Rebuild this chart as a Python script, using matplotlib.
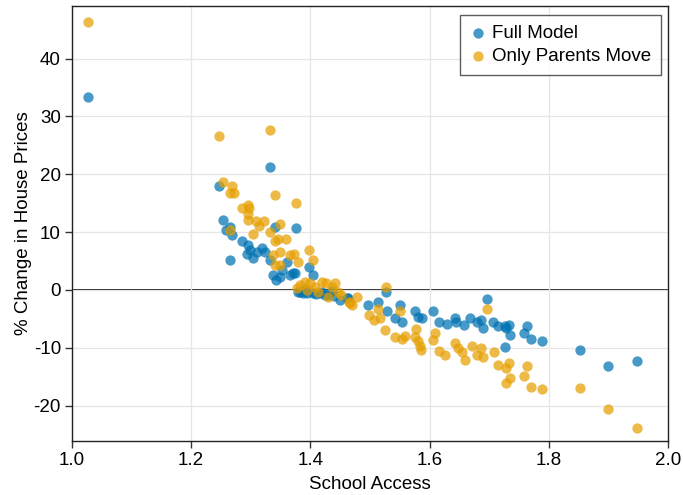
import matplotlib
matplotlib.use("Agg")
import matplotlib.pyplot as plt

# School access per tract and % change in house prices under each scenario
full_x = [1.027, 1.333, 1.247, 1.253, 1.265, 1.269, 1.376, 1.341, 1.286, 1.296,
          1.299, 1.324, 1.310, 1.293, 1.303, 1.265, 1.332, 1.360, 1.397, 1.338,
          1.349, 1.366, 1.374, 1.343, 1.405, 1.370, 1.379, 1.388, 1.404, 1.416,
          1.450, 1.463, 1.383, 1.395, 1.410, 1.420, 1.430, 1.440, 1.461, 1.527,
          1.696, 1.497, 1.514, 1.550, 1.528, 1.542, 1.553, 1.576, 1.581, 1.587,
          1.606, 1.615, 1.629, 1.643, 1.645, 1.657, 1.668, 1.679, 1.687, 1.690,
          1.707, 1.727, 1.727, 1.714, 1.729, 1.734, 1.735, 1.758, 1.764, 1.771,
          1.789, 1.853, 1.900, 1.948, 1.259, 1.318, 1.352, 1.391, 1.425, 1.436]
full_y = [33.4, 21.3, 18.0, 12.1, 10.9, 9.5, 10.8, 10.9, 8.5, 7.8,
          6.9, 6.6, 6.6, 6.3, 5.5, 5.2, 5.2, 4.9, 4.0, 2.6,
          2.3, 2.6, 2.9, 1.7, 2.6, 2.9, -0.3, -0.6, -0.6, -0.6,
          -1.7, -1.4, -0.4, -0.5, -0.7, -0.3, -0.8, -1.0, -1.4, -0.3,
          -1.6, -2.6, -2.0, -2.6, -3.7, -4.9, -5.5, -3.7, -4.6, -4.9,
          -3.7, -5.6, -5.8, -4.9, -5.5, -6.1, -4.9, -5.5, -5.1, -6.6,
          -5.5, -6.3, -9.9, -6.2, -6.5, -6.1, -7.8, -7.5, -6.3, -8.4,
          -8.8, -10.4, -13.1, -12.3, 10.4, 7.3, 3.5, 0.2, -0.9, -0.2]

parents_x = [1.027, 1.247, 1.333, 1.253, 1.269, 1.265, 1.271, 1.341, 1.376, 1.296,
             1.286, 1.297, 1.296, 1.296, 1.309, 1.322, 1.313, 1.265, 1.349, 1.332,
             1.346, 1.359, 1.341, 1.303, 1.349, 1.373, 1.366, 1.397, 1.338, 1.404,
             1.380, 1.341, 1.349, 1.383, 1.391, 1.399, 1.408, 1.419, 1.427, 1.436,
             1.441, 1.447, 1.452, 1.430, 1.466, 1.478, 1.377, 1.394, 1.413, 1.464,
             1.469, 1.527, 1.696, 1.514, 1.550, 1.499, 1.506, 1.517, 1.525, 1.542,
             1.553, 1.559, 1.577, 1.581, 1.584, 1.585, 1.575, 1.606, 1.609, 1.615,
             1.626, 1.643, 1.648, 1.654, 1.659, 1.671, 1.679, 1.687, 1.690, 1.708,
             1.714, 1.729, 1.734, 1.735, 1.728, 1.758, 1.764, 1.771, 1.789, 1.853,
             1.900, 1.948]
parents_y = [46.3, 26.6, 27.7, 18.7, 17.9, 16.8, 16.7, 16.4, 15.1, 14.7,
             14.2, 14.1, 13.1, 12.1, 12.0, 11.9, 11.1, 10.4, 11.4, 10.1,
             8.9, 8.9, 8.5, 9.7, 6.6, 6.3, 6.0, 6.9, 6.0, 5.1,
             4.9, 4.3, 4.3, 0.9, 1.4, 1.2, 0.6, 1.4, 1.2, 0.6,
             1.2, -0.3, -0.9, -1.2, -2.3, -1.2, 0.3, 0.0, -0.3, -2.0,
             -2.6, 0.6, -3.2, -3.2, -3.7, -4.3, -5.2, -4.9, -7.0, -8.2,
             -8.4, -8.0, -6.8, -8.8, -9.7, -10.3, -8.1, -8.6, -7.4, -10.5,
             -11.2, -9.2, -10.1, -10.7, -12.1, -9.7, -11.2, -10.1, -11.5, -10.7,
             -13.0, -13.5, -12.6, -15.2, -16.0, -14.8, -13.1, -16.7, -17.1, -16.9,
             -20.5, -23.9]

xticks = [1.0, 1.2, 1.4, 1.6, 1.8, 2.0]
yticks = [-20, -10, 0, 10, 20, 30, 40]

BLUE = "#0072B2"
ORANGE = "#E69F00"

plt.rcParams["font.family"] = ["Liberation Sans", "DejaVu Sans"]

fig = plt.figure(figsize=(6.83, 4.95), dpi=100)
ax = fig.add_axes([0.1054, 0.1091, 0.8726, 0.8789])

ax.grid(True, color="#e6e6e6", lw=0.9, zorder=0)
ax.axhline(0, color="black", lw=1.2, zorder=1)
ax.scatter(full_x, full_y, s=55, color=BLUE, alpha=0.72, lw=0, label="Full Model", zorder=3)
ax.scatter(parents_x, parents_y, s=55, color=ORANGE, alpha=0.72, lw=0,
           label="Only Parents Move", zorder=3)

ax.set_xlim(1.0, 2.0)
ax.set_ylim(-26.1, 49.1)
ax.set_xticks(xticks)
ax.set_xticklabels([f"{t:.1f}" for t in xticks])
ax.set_yticks(yticks)
ax.set_yticklabels([str(t) for t in yticks])
ax.tick_params(labelsize=13.5, length=5, width=1, direction="out", color="#333333", pad=3)
ax.set_xlabel("School Access", fontsize=13.5, labelpad=5)
ax.set_ylabel("% Change in House Prices", fontsize=13.5, labelpad=1)
for sp in ax.spines.values():
    sp.set_color("#222222")
    sp.set_linewidth(1.0)

leg = ax.legend(loc="upper right", fontsize=13.5, frameon=True, fancybox=False,
                handletextpad=0.3, borderpad=0.5, labelspacing=0.35,
                handlelength=0.9, markerscale=1.0, borderaxespad=0,
                bbox_to_anchor=(0.988, 0.979))
leg.get_frame().set_edgecolor("#333333")
leg.get_frame().set_linewidth(1.0)

fig.savefig("out.png", dpi=100)
